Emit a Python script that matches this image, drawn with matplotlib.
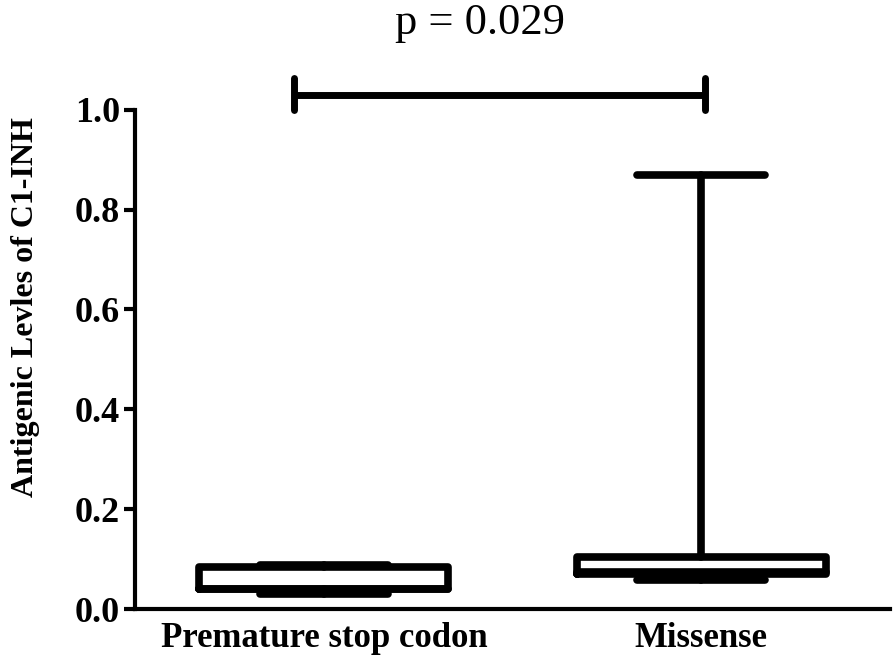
import matplotlib
matplotlib.use('Agg')
import matplotlib.pyplot as plt

# datos
grupos = ["Premature stop codon", "Missense"]
q1 = [0.040, 0.070]
mediana = [0.040, 0.075]
q3 = [0.084, 0.104]
bigote_inf = [0.030, 0.058]
bigote_sup = [0.088, 0.870]
p_valor = "p = 0.029"
barra_x = [0.92, 2.01]
barra_y = 1.03

plt.rcParams['font.family'] = ['Liberation Serif', 'DejaVu Serif']

fig = plt.figure(figsize=(8.96, 6.65), dpi=100)
ax = fig.add_axes([0.151, 0.084, 0.842, 0.751])

stats = []
for i in range(len(grupos)):
    stats.append({"label": grupos[i], "q1": q1[i], "med": mediana[i], "q3": q3[i],
                  "whislo": bigote_inf[i], "whishi": bigote_sup[i], "fliers": []})

lw = 5.5
estilo = dict(color="black", linewidth=lw, solid_capstyle="round", solid_joinstyle="round")
ax.bxp(stats, positions=[1, 2], widths=0.66, showfliers=False,
       boxprops=estilo, whiskerprops=estilo, capprops=estilo,
       medianprops=estilo, capwidths=0.34)

# barra de significancia
ax.plot(barra_x, [barra_y, barra_y], color="black", lw=5, clip_on=False, solid_capstyle="butt")
for xb in barra_x:
    ax.plot([xb, xb], [barra_y - 0.03, barra_y + 0.033], color="black", lw=5,
            clip_on=False, solid_capstyle="round")

fig.text(0.536, 0.966, p_valor, ha="center", va="center", fontsize=32)

ax.set_xlim(0.5, 2.5)
ax.set_ylim(0, 1.0)
ax.set_yticks([0.0, 0.2, 0.4, 0.6, 0.8, 1.0])
ax.set_yticklabels(["0.0", "0.2", "0.4", "0.6", "0.8", "1.0"], fontsize=26, fontweight="bold")
ax.set_xticks([1, 2])
ax.set_xticklabels(grupos, fontsize=25, fontweight="bold")
ax.tick_params(axis="x", length=0, pad=9)
ax.tick_params(axis="y", length=8, width=3, pad=3)
ax.spines["top"].set_visible(False)
ax.spines["right"].set_visible(False)
ax.spines["left"].set_linewidth(3)
ax.spines["bottom"].set_linewidth(3)
ax.set_ylabel("Antigenic Levles of C1-INH", fontsize=23, fontweight="bold")
ax.yaxis.set_label_coords(-0.126, 0.605)

fig.savefig("out.png", dpi=100)
